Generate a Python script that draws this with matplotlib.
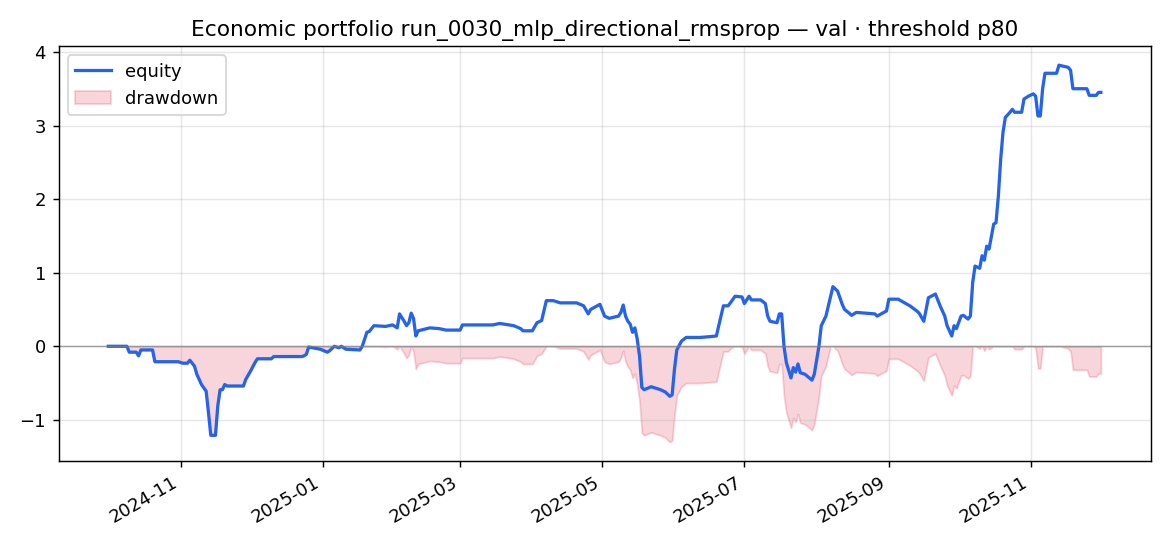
import numpy as np
import pandas as pd
import matplotlib
matplotlib.use("Agg")
import matplotlib.dates as mdates
from matplotlib import pyplot as plt

run_name = "run_0030_mlp_directional_rmsprop"
split = "val"
threshold = "p80"

dates = [
    "2024-10-01", "2024-10-09", "2024-10-10", "2024-10-13", "2024-10-14", "2024-10-15",
    "2024-10-20", "2024-10-21", "2024-10-31", "2024-11-02", "2024-11-04", "2024-11-05",
    "2024-11-07", "2024-11-08", "2024-11-10", "2024-11-12", "2024-11-13", "2024-11-14",
    "2024-11-16", "2024-11-17", "2024-11-18", "2024-11-19", "2024-11-20", "2024-11-21",
    "2024-11-28", "2024-11-29", "2024-12-01", "2024-12-03", "2024-12-04", "2024-12-10",
    "2024-12-11", "2024-12-23", "2024-12-24", "2024-12-25", "2024-12-26", "2024-12-31",
    "2025-01-03", "2025-01-04", "2025-01-06", "2025-01-08", "2025-01-09", "2025-01-11",
    "2025-01-17", "2025-01-18", "2025-01-20", "2025-01-21", "2025-01-23", "2025-01-28",
    "2025-01-31", "2025-02-02", "2025-02-03", "2025-02-05", "2025-02-06", "2025-02-07",
    "2025-02-08", "2025-02-09", "2025-02-10", "2025-02-11", "2025-02-16", "2025-02-20",
    "2025-02-23", "2025-03-01", "2025-03-02", "2025-03-15", "2025-03-18", "2025-03-24",
    "2025-03-27", "2025-03-28", "2025-04-01", "2025-04-03", "2025-04-05", "2025-04-07",
    "2025-04-10", "2025-04-13", "2025-04-20", "2025-04-23", "2025-04-25", "2025-04-26",
    "2025-04-30", "2025-05-02", "2025-05-04", "2025-05-08", "2025-05-09", "2025-05-10",
    "2025-05-11", "2025-05-12", "2025-05-13", "2025-05-14", "2025-05-15", "2025-05-16",
    "2025-05-17", "2025-05-18", "2025-05-19", "2025-05-22", "2025-05-26", "2025-05-28",
    "2025-05-30", "2025-05-31", "2025-06-01", "2025-06-02", "2025-06-04", "2025-06-06",
    "2025-06-12", "2025-06-16", "2025-06-19", "2025-06-20", "2025-06-22", "2025-06-24",
    "2025-06-25", "2025-06-27", "2025-06-30", "2025-07-01", "2025-07-03", "2025-07-04",
    "2025-07-08", "2025-07-10", "2025-07-11", "2025-07-12", "2025-07-15", "2025-07-16",
    "2025-07-17", "2025-07-18", "2025-07-19", "2025-07-21", "2025-07-22", "2025-07-23",
    "2025-07-24", "2025-07-25", "2025-07-27", "2025-07-30", "2025-07-31", "2025-08-02",
    "2025-08-03", "2025-08-05", "2025-08-07", "2025-08-08", "2025-08-10", "2025-08-12",
    "2025-08-13", "2025-08-15", "2025-08-16", "2025-08-18", "2025-08-26", "2025-08-27",
    "2025-08-31", "2025-09-01", "2025-09-05", "2025-09-10", "2025-09-13", "2025-09-14",
    "2025-09-16", "2025-09-17", "2025-09-18", "2025-09-21", "2025-09-23", "2025-09-25",
    "2025-09-26", "2025-09-28", "2025-09-29", "2025-09-30", "2025-10-02", "2025-10-03",
    "2025-10-05", "2025-10-06", "2025-10-07", "2025-10-08", "2025-10-10", "2025-10-11",
    "2025-10-12", "2025-10-13", "2025-10-14", "2025-10-16", "2025-10-17", "2025-10-18",
    "2025-10-19", "2025-10-20", "2025-10-21", "2025-10-23", "2025-10-24", "2025-10-25",
    "2025-10-28", "2025-10-29", "2025-10-31", "2025-11-02", "2025-11-03", "2025-11-04",
    "2025-11-05", "2025-11-06", "2025-11-07", "2025-11-08", "2025-11-12", "2025-11-13",
    "2025-11-17", "2025-11-18", "2025-11-19", "2025-11-20", "2025-11-25", "2025-11-26",
    "2025-11-29", "2025-11-30", "2025-12-01",
]

equity = [
    0.00, 0.00, -0.08, -0.08, -0.13, -0.05,
    -0.05, -0.21, -0.21, -0.23, -0.23, -0.19,
    -0.27, -0.38, -0.52, -0.61, -0.90, -1.21,
    -1.21, -0.81, -0.59, -0.59, -0.52, -0.54,
    -0.54, -0.45, -0.34, -0.22, -0.17, -0.17,
    -0.14, -0.14, -0.13, -0.11, -0.01, -0.04,
    -0.08, -0.06, 0.00, -0.02, 0.00, -0.04,
    -0.05, 0.00, 0.19, 0.20, 0.28, 0.27,
    0.29, 0.25, 0.44, 0.34, 0.28, 0.32,
    0.45, 0.38, 0.14, 0.21, 0.25, 0.24,
    0.22, 0.22, 0.29, 0.29, 0.31, 0.28,
    0.24, 0.21, 0.21, 0.32, 0.35, 0.62,
    0.62, 0.59, 0.59, 0.55, 0.44, 0.50,
    0.57, 0.41, 0.38, 0.41, 0.46, 0.56,
    0.41, 0.34, 0.30, 0.19, 0.25, 0.10,
    -0.13, -0.56, -0.59, -0.55, -0.59, -0.62,
    -0.68, -0.66, -0.31, -0.05, 0.07, 0.12,
    0.12, 0.13, 0.14, 0.28, 0.55, 0.55,
    0.59, 0.68, 0.67, 0.58, 0.68, 0.63,
    0.63, 0.58, 0.41, 0.34, 0.32, 0.44,
    0.44, 0.00, -0.22, -0.43, -0.29, -0.35,
    -0.24, -0.36, -0.38, -0.46, -0.38, 0.00,
    0.28, 0.41, 0.68, 0.81, 0.75, 0.57,
    0.50, 0.45, 0.42, 0.46, 0.44, 0.41,
    0.48, 0.64, 0.64, 0.55, 0.48, 0.45,
    0.34, 0.50, 0.66, 0.71, 0.55, 0.41,
    0.28, 0.14, 0.28, 0.24, 0.41, 0.42,
    0.37, 0.41, 0.87, 1.09, 1.06, 1.23,
    1.17, 1.36, 1.32, 1.66, 1.68, 2.04,
    2.54, 2.91, 3.11, 3.18, 3.22, 3.18,
    3.18, 3.36, 3.40, 3.43, 3.40, 3.13,
    3.13, 3.50, 3.71, 3.71, 3.71, 3.82,
    3.79, 3.75, 3.50, 3.50, 3.50, 3.41,
    3.41, 3.45, 3.45,
]

df = pd.DataFrame({"date": pd.to_datetime(dates), "equity": equity})
df["drawdown"] = df["equity"] - df["equity"].cummax()

fig, ax = plt.subplots(figsize=(9.0, 4.2), dpi=130)
ax.plot(df["date"], df["equity"], color="#2563eb", linewidth=1.8, label="equity")
ax.fill_between(df["date"], df["drawdown"], 0, color="crimson", alpha=0.18, label="drawdown")
ax.axhline(0, color="gray", linewidth=0.8, alpha=0.7)

ax.xaxis.set_major_locator(mdates.MonthLocator(bymonth=[1, 3, 5, 7, 9, 11]))
ax.xaxis.set_major_formatter(mdates.DateFormatter("%Y-%m"))
ax.grid(alpha=0.3)
ax.legend(loc="upper left")
ax.set_title(f"Economic portfolio {run_name} — {split} · threshold {threshold}")
fig.autofmt_xdate()
fig.tight_layout()
fig.savefig("out.png")
